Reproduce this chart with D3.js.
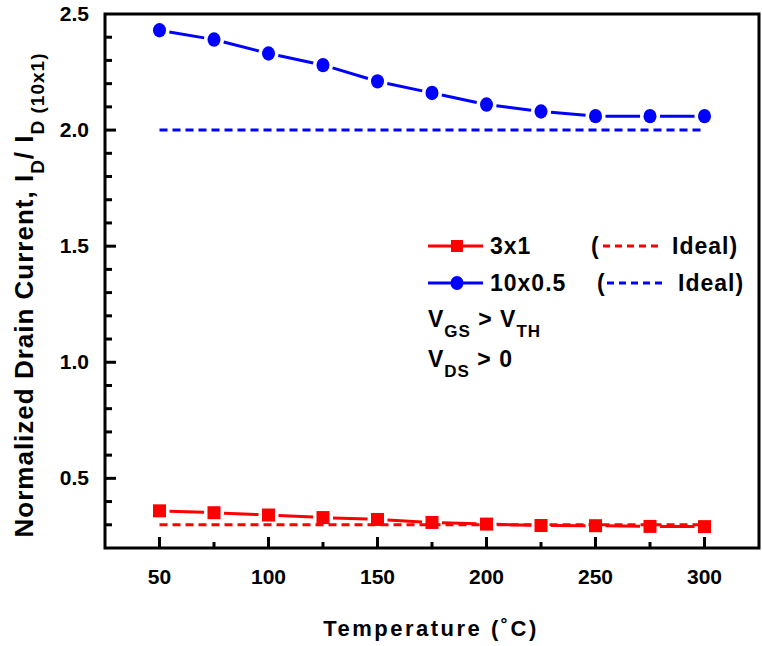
<!DOCTYPE html>
<html><head><meta charset="utf-8">
<script src="https://cdn.jsdelivr.net/npm/d3@7"></script>
<style>body{margin:0;background:#fff}svg{display:block}text{font-family:"Liberation Sans",Arial,sans-serif;font-weight:bold;fill:#000}</style>
</head><body>
<svg id="c" width="762" height="646"></svg>
<script>
const temps = [50, 75, 100, 125, 150, 175, 200, 225, 250, 275, 300];
const series3x1 = [0.36, 0.352, 0.342, 0.331, 0.323, 0.31, 0.303, 0.297, 0.296, 0.293, 0.292];
const series10x05 = [2.43, 2.39, 2.33, 2.28, 2.21, 2.16, 2.11, 2.08, 2.06, 2.06, 2.06];
const ideal3x1 = 0.3;
const ideal10x05 = 2.0;
const xTicks = [50, 100, 150, 200, 250, 300];
const yTicks = [0.5, 1.0, 1.5, 2.0, 2.5];

const svg = d3.select("#c");
const L = 105, R = 759, T = 14, B = 548;
const x = d3.scaleLinear().domain([25, 325]).range([L, R]);
const y = d3.scaleLinear().domain([0.2, 2.5]).range([B, T]);
const RED = "#ff0000", BLUE = "#0000ff";

// ticks (inward)
const xMinor = d3.range(50, 301, 25);
svg.append("g").selectAll("line").data(xMinor).join("line")
  .attr("x1", d => x(d)).attr("x2", d => x(d))
  .attr("y1", B).attr("y2", d => B - (d % 50 === 0 ? 11 : 6))
  .attr("stroke", "#000").attr("stroke-width", 3);
const yMinor = d3.range(3, 25).map(i => i / 10);
svg.append("g").selectAll("line").data(yMinor).join("line")
  .attr("y1", d => y(d)).attr("y2", d => y(d))
  .attr("x1", L).attr("x2", d => L + (Math.abs(d * 10 % 5) < 1e-6 ? 11 : 7))
  .attr("stroke", "#000").attr("stroke-width", 3);

// frame
svg.append("rect").attr("x", L).attr("y", T).attr("width", R - L).attr("height", B - T)
  .attr("fill", "none").attr("stroke", "#000").attr("stroke-width", 3);

// tick labels
svg.append("g").selectAll("text").data(xTicks).join("text")
  .attr("x", d => x(d)).attr("y", 584).attr("text-anchor", "middle")
  .attr("font-size", 21).text(d => d);
svg.append("g").selectAll("text").data(yTicks).join("text")
  .attr("x", 89).attr("y", d => y(d) + 7).attr("text-anchor", "end")
  .attr("font-size", 21).text(d => d.toFixed(1));

// ideal lines
function idealLine(v, color) {
  svg.append("line").attr("x1", x(50)).attr("x2", x(300))
    .attr("y1", y(v)).attr("y2", y(v))
    .attr("stroke", color).attr("stroke-width", 3).attr("stroke-dasharray", "8,5");
}
idealLine(ideal3x1, RED);
idealLine(ideal10x05, BLUE);

// data lines with gaps
function segLines(vals, color, gap) {
  const pts = temps.map((t, i) => [x(t), y(vals[i])]);
  const segs = [];
  for (let i = 0; i < pts.length - 1; i++) {
    const [x1, y1] = pts[i], [x2, y2] = pts[i + 1];
    const dx = x2 - x1, dy = y2 - y1, len = Math.hypot(dx, dy);
    const ux = dx / len, uy = dy / len;
    segs.push([x1 + ux * gap, y1 + uy * gap, x2 - ux * gap, y2 - uy * gap]);
  }
  svg.append("g").selectAll("line").data(segs).join("line")
    .attr("x1", d => d[0]).attr("y1", d => d[1]).attr("x2", d => d[2]).attr("y2", d => d[3])
    .attr("stroke", color).attr("stroke-width", 3);
}
segLines(series3x1, RED, 10);
segLines(series10x05, BLUE, 10);

svg.append("g").selectAll("rect").data(temps).join("rect")
  .attr("x", d => x(d) - 6.5).attr("y", (d, i) => y(series3x1[i]) - 6.5)
  .attr("width", 13).attr("height", 13).attr("fill", RED);
svg.append("g").selectAll("ellipse").data(temps).join("ellipse")
  .attr("cx", d => x(d)).attr("cy", (d, i) => y(series10x05[i]))
  .attr("rx", 6.5).attr("ry", 7.2).attr("fill", BLUE);

// legend
const lg = svg.append("g").attr("letter-spacing", 1);
lg.append("line").attr("x1", 428).attr("x2", 483).attr("y1", 246).attr("y2", 246).attr("stroke", RED).attr("stroke-width", 3);
lg.append("rect").attr("x", 451).attr("y", 240).attr("width", 12).attr("height", 12).attr("fill", RED);
lg.append("text").attr("x", 490).attr("y", 254).attr("font-size", 23).text("3x1");
lg.append("text").attr("x", 591).attr("y", 254).attr("font-size", 23).text("(");
lg.append("line").attr("x1", 603).attr("x2", 658).attr("y1", 246).attr("y2", 246).attr("stroke", RED).attr("stroke-width", 3).attr("stroke-dasharray", "7,5");
lg.append("text").attr("x", 672).attr("y", 254).attr("font-size", 23).text("Ideal)");

lg.append("line").attr("x1", 428).attr("x2", 483).attr("y1", 283).attr("y2", 283).attr("stroke", BLUE).attr("stroke-width", 3);
lg.append("ellipse").attr("cx", 457).attr("cy", 283).attr("rx", 6.5).attr("ry", 7).attr("fill", BLUE);
lg.append("text").attr("x", 490).attr("y", 291).attr("font-size", 23).text("10x0.5");
lg.append("text").attr("x", 597).attr("y", 291).attr("font-size", 23).text("(");
lg.append("line").attr("x1", 607).attr("x2", 662).attr("y1", 283).attr("y2", 283).attr("stroke", BLUE).attr("stroke-width", 3).attr("stroke-dasharray", "7,5");
lg.append("text").attr("x", 678).attr("y", 291).attr("font-size", 23).text("Ideal)");

const t1 = lg.append("text").attr("x", 428).attr("y", 327).attr("font-size", 23);
t1.append("tspan").text("V");
t1.append("tspan").attr("font-size", 17).attr("dy", 10).text("GS");
t1.append("tspan").attr("dy", -10).text(" > V");
t1.append("tspan").attr("font-size", 17).attr("dy", 10).text("TH");
const t2 = lg.append("text").attr("x", 428).attr("y", 367).attr("font-size", 23);
t2.append("tspan").text("V");
t2.append("tspan").attr("font-size", 17).attr("dy", 10).text("DS");
t2.append("tspan").attr("dy", -10).text(" > 0");

// axis titles
svg.append("text").attr("x", 431).attr("y", 636).attr("text-anchor", "middle")
  .attr("font-size", 22).attr("letter-spacing", 2.5).text("Temperature (\u02DAC)");
const yt = svg.append("text").attr("transform", "translate(33,295) rotate(-90)")
  .attr("text-anchor", "middle").attr("font-size", 26).attr("letter-spacing", 1);
yt.append("tspan").text("Normalized Drain Current, I");
yt.append("tspan").attr("font-size", 19).attr("dy", 11).text("D");
yt.append("tspan").attr("dy", -11).text("/ I");
yt.append("tspan").attr("font-size", 19).attr("dy", 11).text("D (10x1)");
</script>
</body></html>
